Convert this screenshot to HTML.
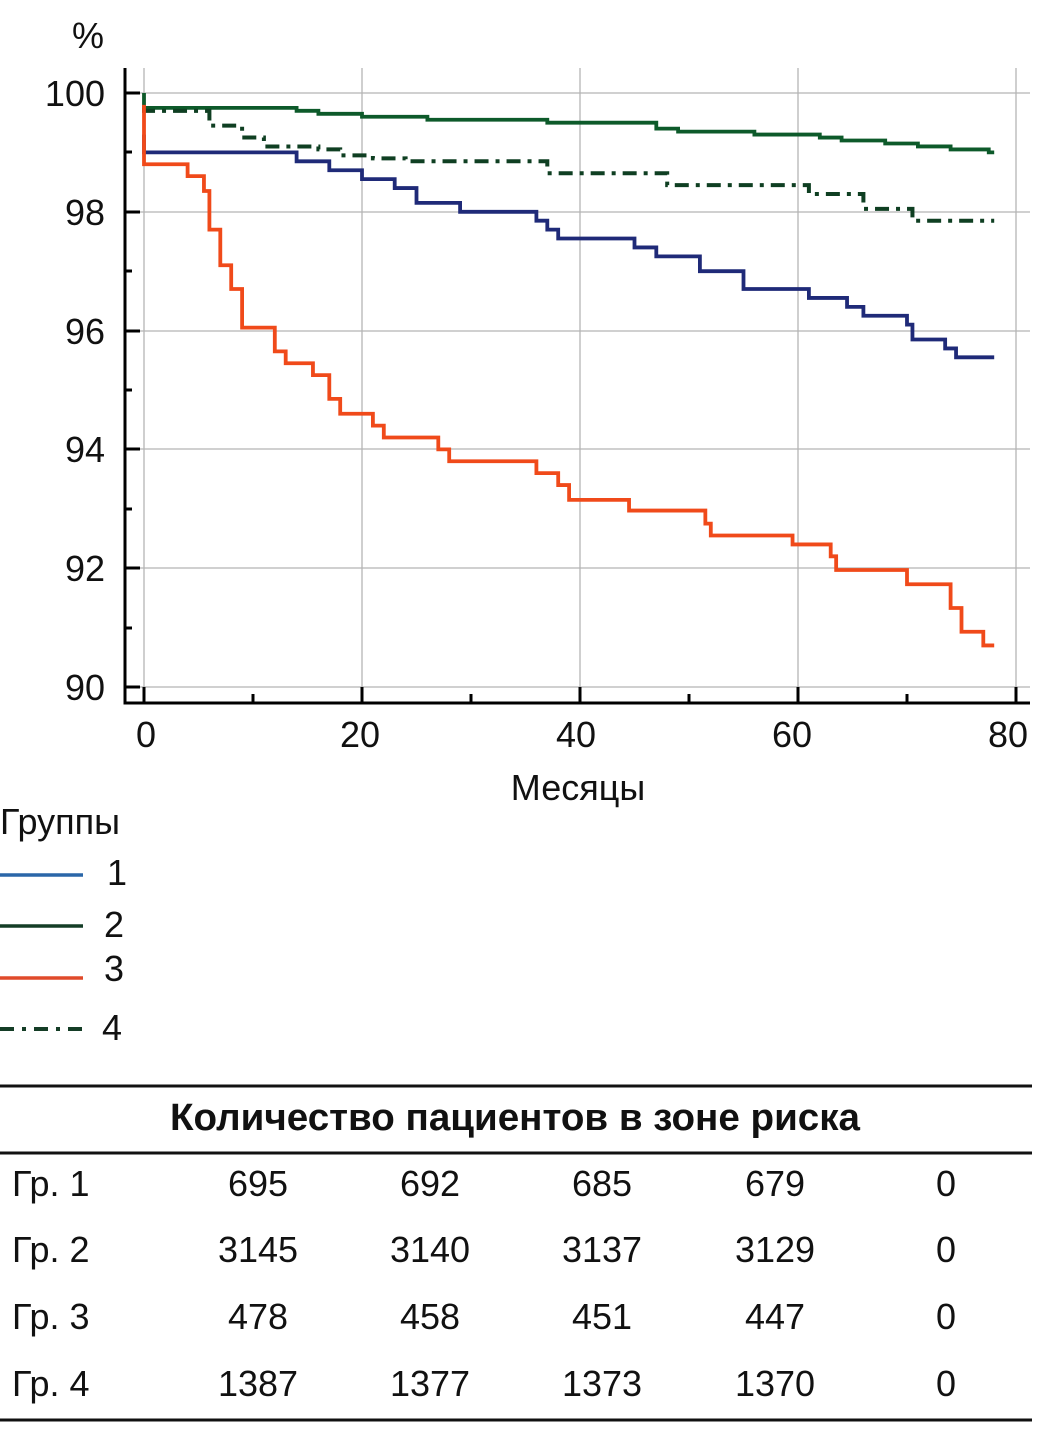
<!DOCTYPE html>
<html><head><meta charset="utf-8"><style>
html,body{margin:0;padding:0;background:#fff}
svg{display:block}
text{font-family:"Liberation Sans","DejaVu Sans",sans-serif;fill:#111}
</style></head><body>
<svg width="1037" height="1434" viewBox="0 0 1037 1434" xmlns="http://www.w3.org/2000/svg">
<g stroke="#b5b5b5" stroke-width="1.3">
<line x1="144" y1="68" x2="144" y2="702"/>
<line x1="362" y1="68" x2="362" y2="702"/>
<line x1="580" y1="68" x2="580" y2="702"/>
<line x1="798" y1="68" x2="798" y2="702"/>
<line x1="1016" y1="68" x2="1016" y2="702"/>
<line x1="124" y1="93" x2="1030" y2="93"/>
<line x1="124" y1="212" x2="1030" y2="212"/>
<line x1="124" y1="331" x2="1030" y2="331"/>
<line x1="124" y1="449" x2="1030" y2="449"/>
<line x1="124" y1="568" x2="1030" y2="568"/>
<line x1="124" y1="687" x2="1030" y2="687"/>
</g>
<g stroke="#000" stroke-width="3" fill="none">
<path d="M125 68 V703 H1030"/>
<path d="M124 93 h16 M124 152 h8 M124 212 h16 M124 271 h8 M124 331 h16 M124 390 h8 M124 449 h16 M124 509 h8 M124 568 h16 M124 628 h8 M124 687 h16"/>
<path d="M144 703 v-16 M253 703 v-9 M362 703 v-16 M471 703 v-9 M580 703 v-16 M689 703 v-9 M798 703 v-16 M907 703 v-9 M1016 703 v-16"/>
</g>
<g font-size="36">
<text x="72" y="48">%</text>
<text x="105" y="106" text-anchor="end">100</text>
<text x="105" y="225" text-anchor="end">98</text>
<text x="105" y="344" text-anchor="end">96</text>
<text x="105" y="462" text-anchor="end">94</text>
<text x="105" y="581" text-anchor="end">92</text>
<text x="105" y="700" text-anchor="end">90</text>
<text x="146" y="747" text-anchor="middle">0</text>
<text x="360" y="747" text-anchor="middle">20</text>
<text x="576" y="747" text-anchor="middle">40</text>
<text x="792" y="747" text-anchor="middle">60</text>
<text x="1008" y="747" text-anchor="middle">80</text>
<text x="578" y="800" text-anchor="middle">Месяцы</text>
<text x="0" y="834">Группы</text>
<text x="107" y="885">1</text>
<text x="104" y="937">2</text>
<text x="104" y="981">3</text>
<text x="102" y="1040">4</text>
</g>
<g stroke-width="3.5" fill="none">
<line x1="0" y1="875" x2="83" y2="875" stroke="#2a66a8"/>
<line x1="0" y1="926" x2="83" y2="926" stroke="#143d26"/>
<line x1="0" y1="978" x2="83" y2="978" stroke="#e04a2a"/>
<line x1="0" y1="1029" x2="83" y2="1029" stroke="#143d26" stroke-width="4" stroke-dasharray="14,8,4,8"/>
</g>
<g transform="translate(144,93) scale(10.9,-59.4) translate(0,-100)" fill="none" stroke-width="3.8">
<path vector-effect="non-scaling-stroke" stroke="#0d5a2a" d="M0 100 V99.75 H14 V99.7 H16 V99.65 H20 V99.6 H26 V99.55 H37 V99.5 H47 V99.4 H49 V99.35 H56 V99.3 H62 V99.25 H64 V99.2 H68 V99.15 H71 V99.1 H74 V99.05 H77.5 V99.0 H78"/>
<path vector-effect="non-scaling-stroke" stroke="#0f3f22" stroke-width="4" stroke-dasharray="14,7,4,7" d="M0 99.75 V99.7 H6 V99.45 H9 V99.25 H11 V99.1 H16 V99.05 H18 V98.95 H21 V98.9 H24 V98.85 H37 V98.65 H48 V98.45 H61 V98.3 H66 V98.05 H70.5 V97.85 H78"/>
<path vector-effect="non-scaling-stroke" stroke="#1f2a78" d="M0 99.3 V99 H14 V98.85 H17 V98.7 H20 V98.55 H23 V98.4 H25 V98.15 H29 V98 H36 V97.85 H37 V97.7 H38 V97.55 H45 V97.4 H47 V97.25 H51 V97.0 H55 V96.7 H61 V96.55 H64.5 V96.4 H66 V96.25 H70 V96.1 H70.5 V95.85 H73.5 V95.7 H74.5 V95.55 H78"/>
<path vector-effect="non-scaling-stroke" stroke="#f04a1a" d="M0 99.8 V98.8 H4 V98.6 H5.5 V98.35 H6 V97.7 H7 V97.1 H8 V96.7 H9 V96.05 H12 V95.65 H13 V95.45 H15.5 V95.25 H17 V94.85 H18 V94.6 H21 V94.4 H22 V94.2 H27 V94.0 H28 V93.8 H36 V93.6 H38 V93.4 H39 V93.15 H44.5 V92.97 H51.5 V92.75 H52 V92.55 H59.5 V92.4 H63 V92.2 H63.5 V91.97 H70 V91.73 H74 V91.33 H75 V90.93 H77 V90.7 H78"/>
</g>
<g stroke="#111" stroke-width="3">
<line x1="0" y1="1086" x2="1032" y2="1086"/>
<line x1="0" y1="1153" x2="1032" y2="1153"/>
<line x1="0" y1="1420" x2="1032" y2="1420"/>
</g>
<text x="170" y="1130" font-size="38" font-weight="bold" textLength="690" lengthAdjust="spacingAndGlyphs">Количество пациентов в зоне риска</text>
<g font-size="36" text-anchor="middle">
<text x="12" y="1196" text-anchor="start">Гр. 1</text>
<text x="258" y="1196">695</text><text x="430" y="1196">692</text><text x="602" y="1196">685</text><text x="775" y="1196">679</text><text x="946" y="1196">0</text>
<text x="12" y="1262" text-anchor="start">Гр. 2</text>
<text x="258" y="1262">3145</text><text x="430" y="1262">3140</text><text x="602" y="1262">3137</text><text x="775" y="1262">3129</text><text x="946" y="1262">0</text>
<text x="12" y="1329" text-anchor="start">Гр. 3</text>
<text x="258" y="1329">478</text><text x="430" y="1329">458</text><text x="602" y="1329">451</text><text x="775" y="1329">447</text><text x="946" y="1329">0</text>
<text x="12" y="1396" text-anchor="start">Гр. 4</text>
<text x="258" y="1396">1387</text><text x="430" y="1396">1377</text><text x="602" y="1396">1373</text><text x="775" y="1396">1370</text><text x="946" y="1396">0</text>
</g>
</svg>
</body></html>
